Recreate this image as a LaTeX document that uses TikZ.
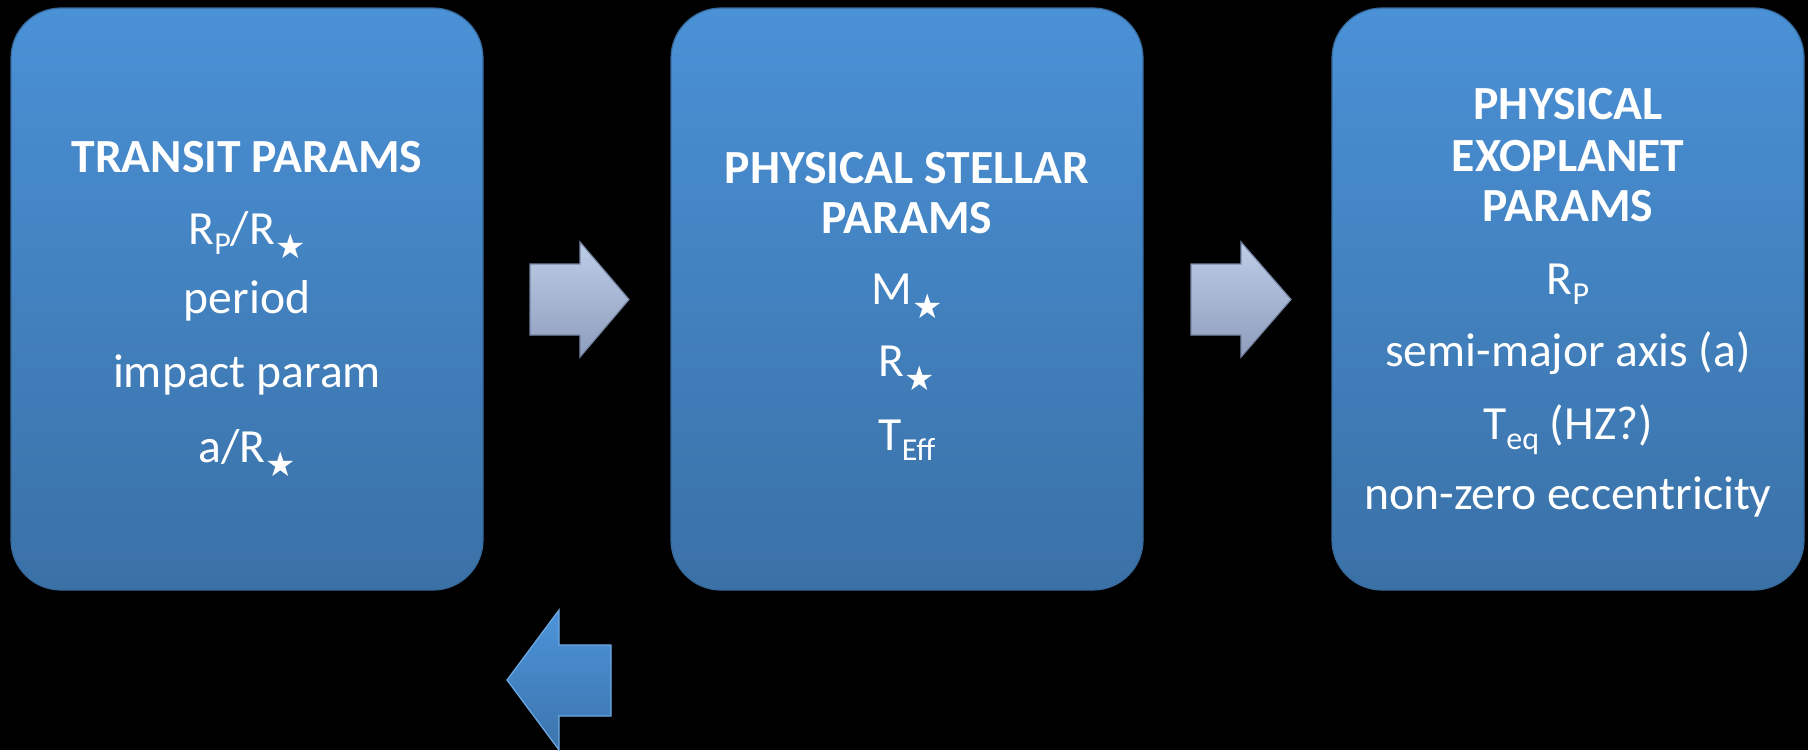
\documentclass[tikz,border=0pt]{standalone}
\usepackage{fontspec}
\setmainfont{Carlito}
\newfontfamily\symf{DejaVu Sans}
\newcommand\mystar{\raisebox{-7pt}{\fontsize{17pt}{17pt}\symf ★}}
\newcommand\mysub[1]{\raisebox{-5pt}{\fontsize{16pt}{16pt}\selectfont #1}}
\definecolor{boxtop}{RGB}{74,145,214}
\definecolor{boxbot}{RGB}{58,113,167}
\definecolor{boxedge}{RGB}{55,105,155}
\definecolor{artop}{RGB}{190,206,232}
\definecolor{arbot}{RGB}{142,157,188}
\definecolor{aredge}{RGB}{120,135,165}
\definecolor{lartop}{RGB}{76,148,218}
\definecolor{larbot}{RGB}{60,116,172}
\definecolor{laredge}{RGB}{110,170,228}
\begin{document}
\begin{tikzpicture}[x=0.5pt,y=-0.5pt,
  box/.style={rounded corners=25pt, minimum width=236pt, minimum height=291pt, inner sep=0pt,
    top color=boxtop, bottom color=boxbot, draw=boxedge, line width=0.6pt},
  ttl/.style={anchor=base, text=white, font=\fontsize{23.8pt}{25.5pt}\selectfont\bfseries, inner sep=0pt},
  itm/.style={anchor=base, text=white, font=\fontsize{23.8pt}{28pt}\selectfont, inner sep=0pt},
  rarrow/.style={top color=artop, bottom color=arbot, draw=aredge, line width=0.6pt},
  larrow/.style={top color=lartop, bottom color=larbot, draw=laredge, line width=0.6pt}]
\fill[black] (0,0) rectangle (1808,750);
\useasboundingbox (0,0) rectangle (1808,750);
% boxes
\node[box] (box1) at (247,299) {};
\node[box] (box2) at (907,299) {};
\node[box] (box3) at (1568,299) {};
% box 1 text
\node[ttl] (b1t) at (247,172) {TRANSIT PARAMS};
\node[itm] (b1a) at (247,244) {R\mysub{P}/R\mystar};
\node[itm] (b1b) at (247,313) {period};
\node[itm] (b1c) at (247,387) {impact param};
\node[itm] (b1d) at (247,462) {a/R\mystar};
% box 2 text
\node[ttl] (b2t1) at (907,183) {PHYSICAL STELLAR};
\node[ttl] (b2t2) at (907,233) {PARAMS};
\node[itm] (b2a) at (907,304) {M\mystar};
\node[itm] (b2b) at (907,376) {R\mystar};
\node[itm] (b2c) at (907,450) {T\mysub{Eff}};
% box 3 text
\node[ttl] (b3t1) at (1568,119) {PHYSICAL};
\node[ttl] (b3t2) at (1568,171) {EXOPLANET};
\node[ttl] (b3t3) at (1568,221) {PARAMS};
\node[itm] (b3a) at (1568,294) {R\mysub{P}};
\node[itm] (b3b) at (1568,366) {semi-major axis (a)};
\node[itm] (b3c) at (1568,439) {T\mysub{eq} (HZ?)};
\node[itm] (b3d) at (1568,509) {non-zero eccentricity};
% block arrows
\shade[rarrow] (530,264) -- (580,264) -- (580,242) -- (629,299.5) -- (580,357) -- (580,335) -- (530,335) -- cycle;
\shade[rarrow] (1191,264) -- (1241,264) -- (1241,242) -- (1291,299.5) -- (1241,357) -- (1241,335) -- (1191,335) -- cycle;
\shade[larrow] (611,645) -- (559,645) -- (559,610) -- (507,680) -- (559,750) -- (559,716) -- (611,716) -- cycle;
\end{tikzpicture}
\end{document}
